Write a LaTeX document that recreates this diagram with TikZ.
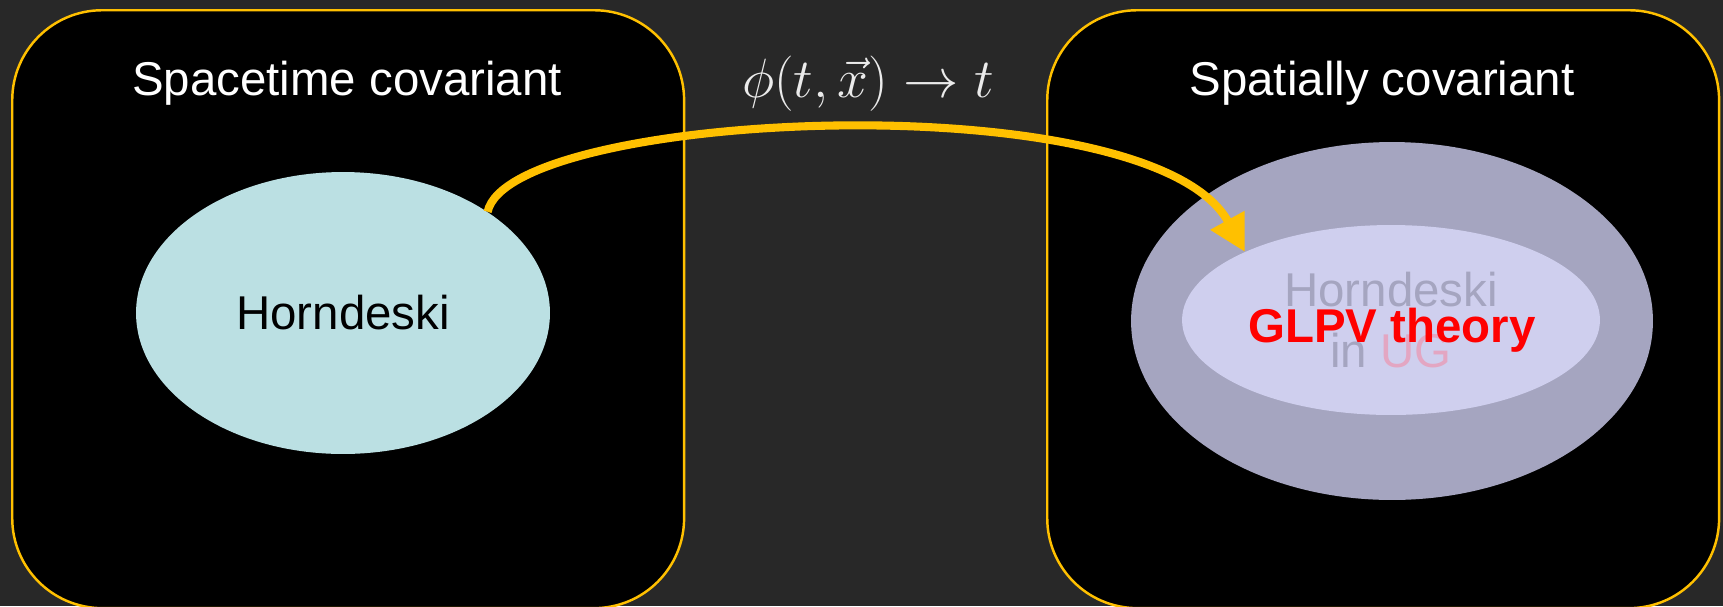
\RequirePackage{fix-cm}
\documentclass[tikz,border=0pt]{standalone}
\usepackage{fontspec}
\setsansfont{Liberation Sans}
\usepackage{xcolor}
\usetikzlibrary{shapes.geometric, arrows.meta, positioning}

\definecolor{bgdark}{HTML}{282828}
\definecolor{gold}{HTML}{FFC000}
\definecolor{hornblue}{HTML}{BBE0E3}
\definecolor{ugouter}{HTML}{A5A5C0}
\definecolor{uginner}{HTML}{CFCFEE}
\definecolor{ugpink}{HTML}{E3A6C2}

\begin{document}
\begin{tikzpicture}[x=0.02cm, y=-0.02cm, font=\sffamily\fontsize{27}{34.5}\selectfont]
    \tikzset{
        panel/.style={draw=gold, line width=1.4pt, fill=black, rounded corners=1.8cm,
            minimum width=13.44cm, minimum height=11.96cm, anchor=north west},
        blob/.style={ellipse, inner sep=0pt, draw=none},
        title/.style={text=white},
    }

    % page
    \fill[bgdark] (0,0) rectangle (1723,606);
    \useasboundingbox (0,0) rectangle (1723,606);

    % the two frames
    \node[panel] (spacetime) at (11,9) {};
    \node[panel] (spatial) at (1046,9) {};

    \node[title] (stitle) at (347,83) {Spacetime covariant};
    \node[title] (ptitle) at (1382,83) {Spatially covariant};

    % theories
    \node[blob, fill=hornblue, minimum width=8.28cm, minimum height=5.64cm, text=black] (horn) at (343,313) {\raisebox{-0.15em}{Horndeski}};
    \node[blob, fill=ugouter, minimum width=10.44cm, minimum height=7.16cm] (ugout) at (1392,321) {};
    \node[blob, fill=uginner, minimum width=8.36cm, minimum height=3.8cm, align=center, text=ugouter] (ugin) at (1391,320) {Horndeski\\in \textcolor{ugpink}{UG}};
    \node[text=red, font=\sffamily\bfseries\fontsize{27}{33}\selectfont] (glpv) at (1392,330) {GLPV theory};

    % unitary gauge
    \node[text=white!92!black, font=\fontsize{31.5}{38}\selectfont] (map) at (868,84) {$\phi(t,\vec{x})\to t$};
    \draw[gold, line width=4.6pt, -{Triangle[length=0.72cm, width=0.74cm]}] (horn.35) .. controls (510,110) and (1150,80) .. (ugin.155);
\end{tikzpicture}
\end{document}
